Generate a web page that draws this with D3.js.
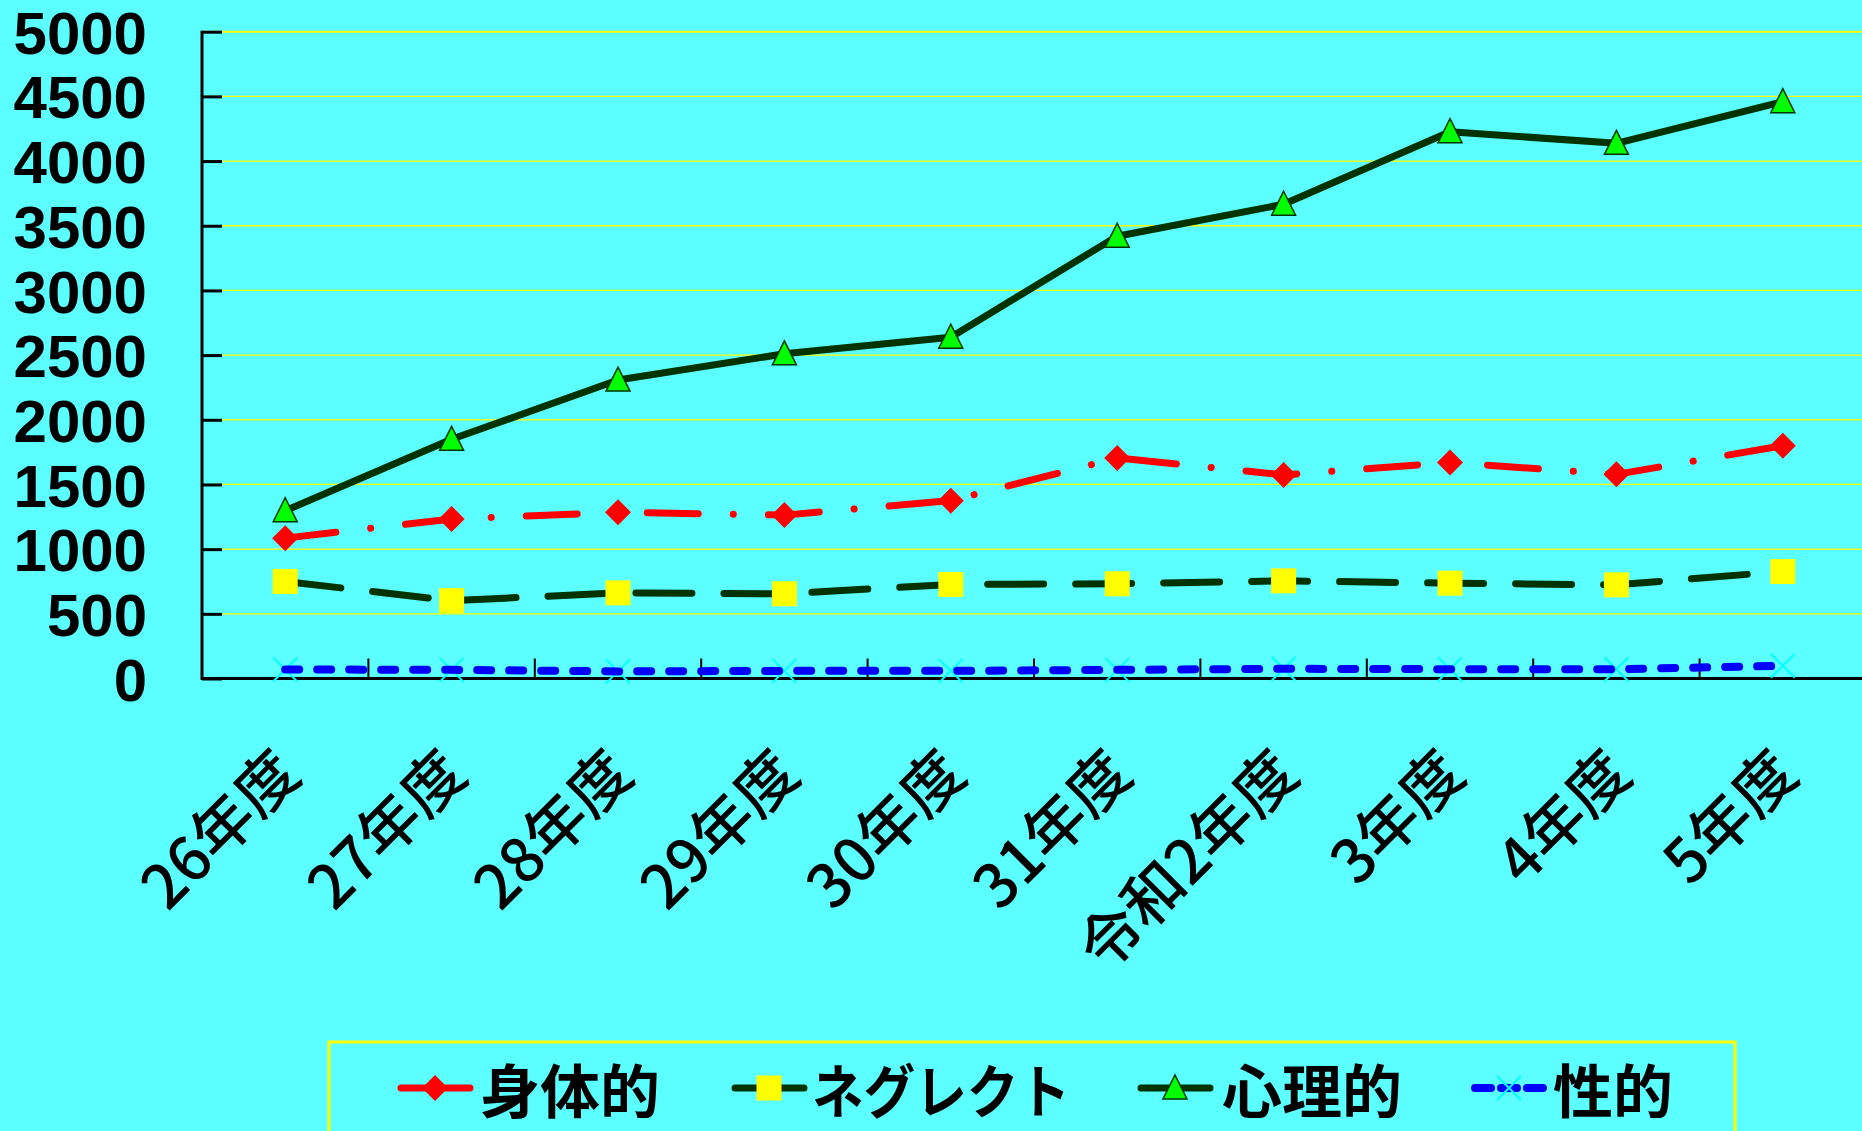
<!DOCTYPE html>
<html>
<head>
<meta charset="utf-8">
<script src="https://cdn.jsdelivr.net/npm/d3@7"></script>
<style>
  html, body { margin: 0; padding: 0; background: #5cffff; overflow: hidden; }
  svg { display: block; }
</style>
</head>
<body>
<svg id="chart"></svg>
<script>
const WIDTH = 1862;
const HEIGHT = 1131;

// data
const categories = ['26年度', '27年度', '28年度', '29年度', '30年度', '31年度', '令和2年度', '3年度', '4年度', '5年度'];
const physical = [1085, 1233, 1285, 1263, 1375, 1705, 1574, 1670, 1578, 1800];
const neglect = [750, 602, 662, 655, 727, 732, 755, 737, 724, 827];
const psychological = [1297, 1849, 2307, 2510, 2638, 3419, 3666, 4227, 4137, 4459];
const sexual = [70, 67, 55, 59, 59, 67, 75, 72, 72, 98];
const seriesNames = ['身体的', 'ネグレクト', '心理的', '性的'];
const yTicks = [0, 500, 1000, 1500, 2000, 2500, 3000, 3500, 4000, 4500, 5000];

window.onload = function(){
    makeChart();
};

function makeChart(){
    const svg = d3.select('#chart')
        .attr('width', WIDTH)
        .attr('height', HEIGHT)
        .style('background-color', '#5cffff');

    const left = 202, bottom = 678.5, top = 31.7;
    const bandW = 166.4;

    const x = d3.scaleBand()
        .domain(categories)
        .range([left, left + bandW * categories.length])
        .padding(0);
    const cx = d => x(d) + x.bandwidth() / 2;

    const y = d3.scaleLinear()
        .domain([0, 5000])
        .range([bottom, top]);

    // gridlines
    svg.append('g')
        .selectAll('line')
        .data(yTicks.filter(t => t > 0))
        .enter()
        .append('line')
        .attr('x1', left)
        .attr('x2', WIDTH)
        .attr('y1', d => y(d))
        .attr('y2', d => y(d))
        .style('stroke', '#ffff00')
        .style('stroke-width', d => d === 5000 ? 2 : 1.3);

    // y axis with inner ticks
    const yAxis = d3.axisLeft(y)
        .tickValues(yTicks)
        .tickFormat(d3.format('d'))
        .tickSize(-20)
        .tickPadding(55);
    const gy = svg.append('g')
        .attr('transform', `translate(${left},0)`)
        .call(yAxis);
    gy.select('.domain').remove();
    gy.selectAll('.tick line').style('stroke', '#000').style('stroke-width', 3);
    gy.selectAll('.tick text')
        .style('font-family', '"Liberation Sans", Arial, sans-serif')
        .style('font-weight', 'bold')
        .style('font-size', '60px')
        .style('fill', '#000')
        .attr('dy', '0.36em');
    svg.append('line')
        .attr('x1', left).attr('x2', left)
        .attr('y1', y(5000) - 1).attr('y2', bottom + 1.5)
        .style('stroke', '#000').style('stroke-width', 3);

    // x axis
    svg.append('line')
        .attr('x1', left).attr('x2', WIDTH)
        .attr('y1', bottom).attr('y2', bottom)
        .style('stroke', '#000').style('stroke-width', 3);
    svg.append('g')
        .selectAll('line')
        .data(categories.slice(1))
        .enter()
        .append('line')
        .attr('x1', d => x(d)).attr('x2', d => x(d))
        .attr('y1', bottom - 20).attr('y2', bottom)
        .style('stroke', '#000').style('stroke-width', 2);

    svg.append('g')
        .selectAll('text')
        .data(categories)
        .enter()
        .append('text')
        .attr('transform', d => `translate(${cx(d) + 18},777) rotate(-45)`)
        .attr('text-anchor', 'end')
        .style('font-family', '"Noto Sans CJK JP", sans-serif')
        .style('font-weight', 500)
        .style('font-size', '61px')
        .style('fill', '#000')
        .text(d => d);

    // series
    const series = [
        { name: seriesNames[0], values: physical, color: '#ff0000', width: 7, dash: '51 35 0.1 35', marker: 'diamond' },
        { name: seriesNames[1], values: neglect, color: '#003300', width: 7, dash: '56 32', marker: 'square' },
        { name: seriesNames[2], values: psychological, color: '#003300', width: 7, dash: null, marker: 'triangle' },
        { name: seriesNames[3], values: sexual, color: '#0000ff', width: 8, dash: '14 18', marker: 'cross' }
    ];

    const line = d3.line()
        .x((d, i) => cx(categories[i]))
        .y(d => y(d));

    function drawMarker(g, type, px, py){
        if (type === 'diamond') {
            g.append('path')
                .attr('d', `M${px},${py - 13}L${px + 13},${py}L${px},${py + 13}L${px - 13},${py}Z`)
                .style('fill', '#ff0000');
        } else if (type === 'square') {
            g.append('rect')
                .attr('x', px - 12.5).attr('y', py - 12.5)
                .attr('width', 25).attr('height', 25)
                .style('fill', '#ffff00');
        } else if (type === 'triangle') {
            g.append('path')
                .attr('d', `M${px},${py - 13}L${px + 12},${py + 11}L${px - 12},${py + 11}Z`)
                .style('fill', '#00ff00')
                .style('stroke', '#003300')
                .style('stroke-width', 1.5);
        } else {
            g.append('path')
                .attr('d', `M${px - 12},${py - 12}L${px + 12},${py + 12}M${px + 12},${py - 12}L${px - 12},${py + 12}`)
                .style('stroke', '#00ffff')
                .style('stroke-width', 2);
        }
    }

    series.forEach(s => {
        const g = svg.append('g');
        const drawLine = () => g.append('path')
            .datum(s.values)
            .attr('d', line)
            .style('fill', 'none')
            .style('stroke', s.color)
            .style('stroke-width', s.width)
            .style('stroke-linecap', 'round')
            .style('stroke-linejoin', 'round')
            .style('stroke-dasharray', s.dash);
        if (s.marker !== 'cross') drawLine();
        s.values.forEach((v, i) => drawMarker(g, s.marker, cx(categories[i]), y(v)));
        if (s.marker === 'cross') drawLine();
    });

    // legend
    svg.append('rect')
        .attr('x', 329).attr('y', 1042)
        .attr('width', 1406).attr('height', 140)
        .style('fill', 'none')
        .style('stroke', '#ffff00')
        .style('stroke-width', 3);

    const legendX = [398, 732, 1138, 1472];
    const legendTextX = [480, 812, 1222, 1553];
    const legendTextW = [180, 258, 180, 120];
    const legendY = 1088;
    series.forEach((s, i) => {
        const g = svg.append('g');
        const x0 = legendX[i];
        g.append('line')
            .attr('x1', x0 + 3).attr('x2', x0 + 72)
            .attr('y1', legendY).attr('y2', legendY)
            .style('stroke', s.color)
            .style('stroke-width', s.width)
            .style('stroke-linecap', 'round')
            .style('stroke-dasharray', s.marker === 'cross' ? '16 10' : null);
        drawMarker(g, s.marker, x0 + 37, legendY);
        g.append('text')
            .attr('x', legendTextX[i])
            .attr('y', legendY)
            .attr('dominant-baseline', 'central')
            .attr('textLength', legendTextW[i])
            .attr('lengthAdjust', 'spacingAndGlyphs')
            .style('font-family', '"Noto Sans CJK JP", sans-serif')
            .style('font-weight', 'bold')
            .style('font-size', '58px')
            .style('fill', '#000')
            .text(s.name);
    });
}
</script>
</body>
</html>
